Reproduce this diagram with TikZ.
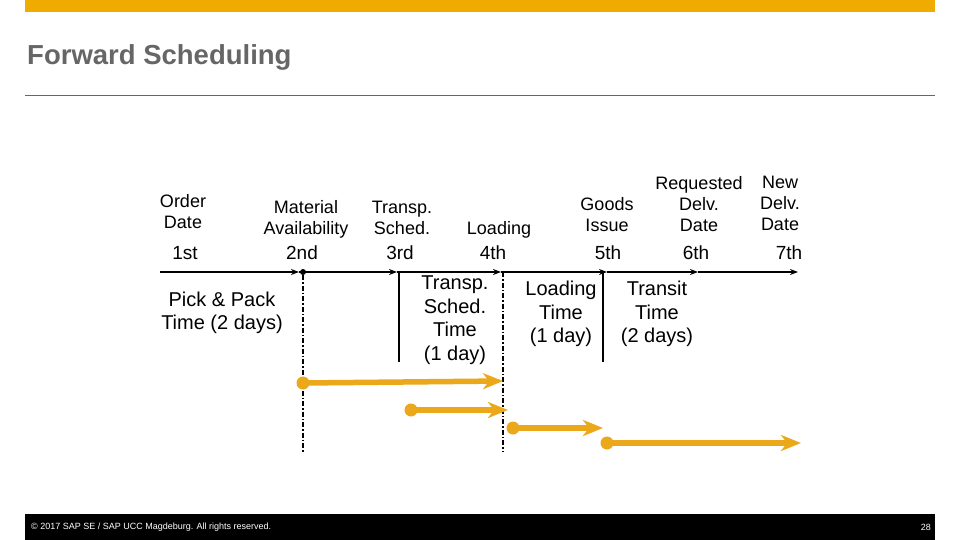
\documentclass[tikz,border=0pt]{standalone}
\usepackage{fontspec}
\setmainfont{Liberation Sans}
\usetikzlibrary{arrows.meta}
\definecolor{sapgold}{HTML}{F0AB00}
\definecolor{arrowgold}{HTML}{EBA81A}
\definecolor{titlegray}{HTML}{666666}
\tikzset{
  lbl/.style={align=center,inner sep=0pt,font=\fontsize{18}{21}\selectfont},
  num/.style={inner sep=0pt,font=\fontsize{19}{22}\selectfont},
  dur/.style={align=center,inner sep=0pt,font=\fontsize{20}{23.5}\selectfont},
  tl/.style={line width=2pt,-{Stealth[length=8pt,width=6pt]}},
  solidv/.style={line width=1.6pt},
  dashdotv/.style={line width=1.6pt,dash pattern=on 5pt off 2pt on 1.5pt off 2pt},
  garrow/.style={line width=5.5pt,arrowgold,-{Stealth[length=20pt,width=16pt,inset=6pt]}},
  gdot/.style={circle,fill=arrowgold,minimum size=13pt,inner sep=0pt}
}
\begin{document}
\begin{tikzpicture}[x=1pt,y=-1pt]
\useasboundingbox (0,0) rectangle (960,540);
% header
\fill[sapgold] (25,0) rectangle (935,12);
\node[anchor=west,inner sep=0pt,text=titlegray,font=\fontsize{27.5}{31}\selectfont\bfseries] (title) at (27,57) {Forward Scheduling};
\draw[titlegray,line width=1pt] (25,96) -- (935,96);
% timeline coordinates
\coordinate (t0) at (160,272);
\coordinate (t1) at (299,272);
\coordinate (t2) at (397,272);
\coordinate (t3) at (501,272);
\coordinate (t4) at (607,272);
\coordinate (t5) at (698,272);
\coordinate (t6) at (798,272);
\draw[tl] (t0) -- (t1);
\draw[tl] (t1) -- (t2);
\draw[tl] (t2) -- (t3);
\draw[tl] (t3) -- (t4);
\draw[tl] (t4) -- (t5);
\draw[tl] (t5) -- (t6);
\node[circle,fill=black,minimum size=6pt,inner sep=0pt] (mdot) at (303,272) {};
% vertical lines
\coordinate (v1t) at (399,272); \coordinate (v1b) at (399,362);
\coordinate (v2t) at (603,272); \coordinate (v2b) at (603,362);
\draw[solidv] (v1t) -- (v1b);
\draw[solidv] (v2t) -- (v2b);
\coordinate (d1b) at (303,452);
\coordinate (d2t) at (503,272); \coordinate (d2b) at (503,452);
\draw[dashdotv] (mdot) -- (d1b);
\draw[dashdotv] (d2t) -- (d2b);
% top labels
\node[lbl] (l1) at (183,212) {Order\\Date};
\node[num] (n1) at (185,253) {1st};
\node[lbl] (l2) at (306,219) {Material\\Availability};
\node[num] (n2) at (302,253) {2nd};
\node[lbl] (l3) at (402,218) {Transp.\\Sched.};
\node[num] (n3) at (400,253) {3rd};
\node[lbl] (l4) at (499,230) {Loading};
\node[num] (n4) at (493,253) {4th};
\node[lbl] (l5) at (607,215) {Goods\\Issue};
\node[num] (n5) at (608,253) {5th};
\node[lbl] (l6) at (699,204) {Requested\\Delv.\\Date};
\node[num] (n6) at (696,253) {6th};
\node[lbl] (l7) at (780,203) {New\\Delv.\\Date};
\node[num] (n7) at (789,253) {7th};
% durations
\node[dur] (p1) at (222,313) {Pick \& Pack\\Time (2 days)};
\node[dur] (p2) at (455,320) {Transp.\\Sched.\\Time\\(1 day)};
\node[dur] (p3) at (561,314) {Loading\\Time\\(1 day)};
\node[dur] (p4) at (657,314) {Transit\\Time\\(2 days)};
% gold arrows
\node[gdot] (g1) at (303,383) {};
\coordinate (g1e) at (503,381);
\draw[garrow] (g1.center) -- (g1e);
\node[gdot] (g2) at (411,410) {};
\coordinate (g2e) at (508,410);
\draw[garrow] (g2.center) -- (g2e);
\node[gdot] (g3) at (513,428) {};
\coordinate (g3e) at (603,428);
\draw[garrow] (g3.center) -- (g3e);
\node[gdot] (g4) at (607,443) {};
\coordinate (g4e) at (801,443);
\draw[garrow] (g4.center) -- (g4e);
% footer
\fill[black] (25,514) rectangle (935,540);
\node[anchor=west,inner sep=0pt,text=white,font=\fontsize{9}{10}\selectfont] (foot) at (31,527) {\textcopyright{} 2017 SAP SE / SAP UCC Magdeburg. All rights reserved.};
\node[anchor=east,inner sep=0pt,text=white,font=\fontsize{9}{10}\selectfont] (page) at (931,527) {28};
\end{tikzpicture}
\end{document}
